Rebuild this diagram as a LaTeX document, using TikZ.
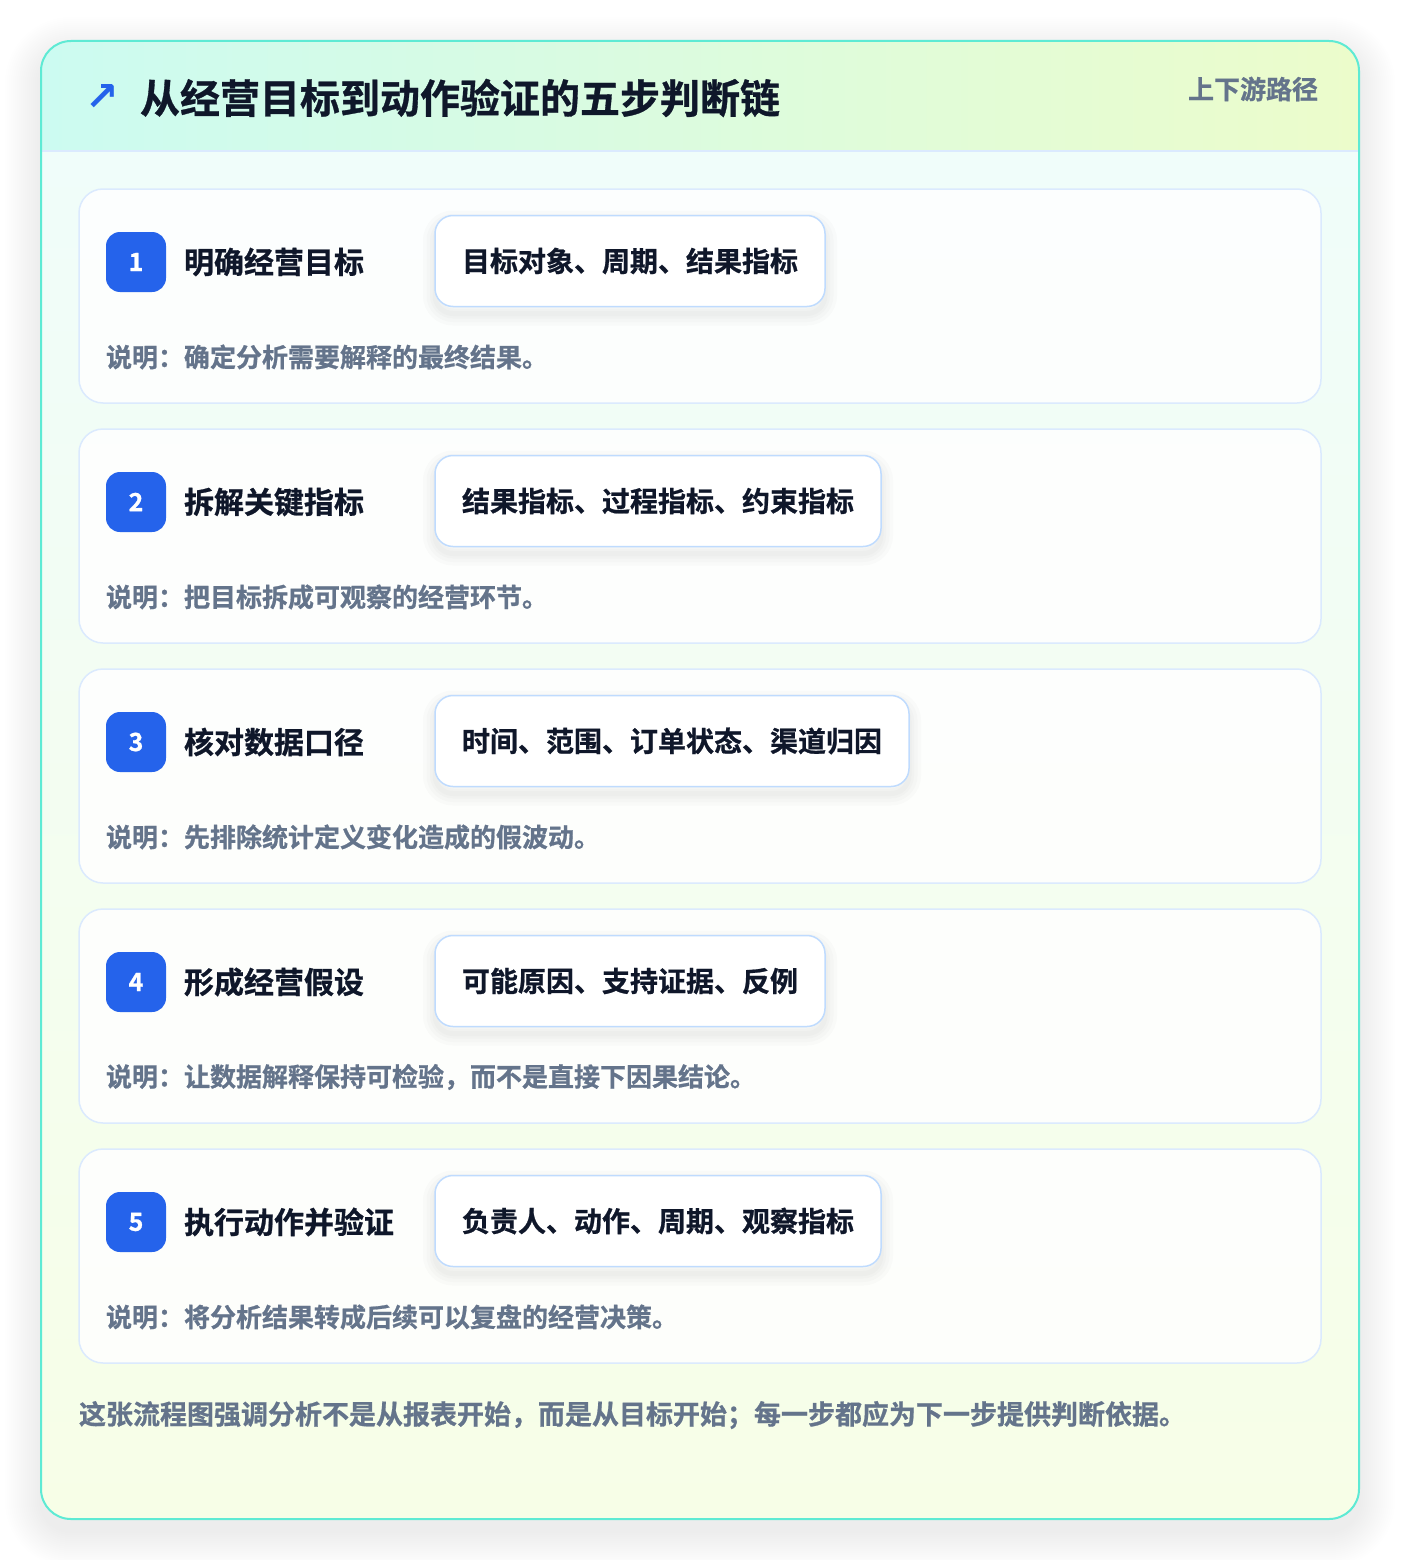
\documentclass[tikz,border=0pt]{standalone}
\usepackage{fontspec}
\setmainfont{Noto Sans CJK SC}[BoldFont={Noto Sans CJK SC Bold}, BoldFeatures={FakeBold=0.8}]
\newfontfamily\symfont{DejaVu Sans}
\tikzset{>=latex}
\usetikzlibrary{positioning}

\definecolor{badgeblue}{HTML}{2563EB}
\definecolor{inkdark}{HTML}{0F172A}
\definecolor{inkgray}{HTML}{64748B}
\definecolor{frameline}{HTML}{5EEAD4}
\definecolor{chipline}{HTML}{BFDBFE}
\definecolor{cardline}{HTML}{DBEAFE}
\definecolor{headleft}{HTML}{CCFBF1}
\definecolor{headright}{HTML}{ECFCCB}
\definecolor{bodytop}{HTML}{F0FDFA}
\definecolor{bodybot}{HTML}{F7FEE7}

\newcommand{\fs}[1]{\fontsize{#1pt}{#1pt}\selectfont\bfseries}

\begin{document}
\begin{tikzpicture}[x=1pt, y=-1pt, every node/.style={inner sep=0pt, outer sep=0pt}]
\tikzset{stepcard/.style={draw=cardline, line width=1.5pt, fill=white, fill opacity=0.85, rounded corners=24pt, minimum width=1242pt, minimum height=214pt, anchor=north west},
badge/.style={fill=badgeblue, rounded corners=14pt, minimum size=60pt, text=white, font=\fs{25}},
steptitle/.style={text=inkdark, font=\fs{30}, anchor=west},
softshadow/.style={preaction={draw=black, draw opacity=0.016, line width=#1, transform canvas={yshift=-7pt}}},
chip/.style={draw=chipline, line width=1.5pt, fill=white, rounded corners=18pt, inner xsep=27pt, minimum height=91pt, text=inkdark, font=\fs{28}, anchor=west,
  softshadow=24pt, softshadow=17pt, softshadow=10pt, softshadow=5pt},
desc/.style={text=inkgray, font=\fs{26}, anchor=west}}
\useasboundingbox (0,0) rectangle (1400,1560);
\fill[white] (0,0) rectangle (1400,1560);

% outer frame with its shadow
\foreach \r in {2,4,...,36}
  \fill[black, opacity=0.004, rounded corners=30pt+\r pt] (41-\r,53-\r) rectangle (1359+\r,1531+\r);
\begin{scope}
\clip[rounded corners=30pt] (41,41) rectangle (1359,1519);
\shade[top color=bodytop, bottom color=bodybot] (41,151) rectangle (1359,1519);
\shade[left color=headleft, right color=headright] (41,41) rectangle (1359,151);
\draw[cardline, line width=1.5pt] (41,151) -- (1359,151);
\end{scope}
\draw[frameline, line width=2pt, rounded corners=30pt] (41,41) rectangle (1359,1519);

% header
\node[text=badgeblue, font=\symfont\bfseries\fontsize{40pt}{40pt}\selectfont] (icon) at (102,98) {↗};
\node[text=inkdark, font=\fs{40}, anchor=west] (title) at (140,98) {从经营目标到动作验证的五步判断链};
\node[text=inkgray, font=\fs{26}, anchor=east] (tag) at (1318,89) {上下游路径};

% step 1
\node[stepcard] (c1) at (79,189) {};
\node[badge] (b1) at (136,262) {1};
\node[steptitle, right=18pt of b1] (t1) {明确经营目标};
\node[chip] (k1) at (435,261) {目标对象、周期、结果指标};
\node[desc] (d1) at (106,357) {说明：确定分析需要解释的最终结果。};

% step 2
\node[stepcard] (c2) at (79,429) {};
\node[badge] (b2) at (136,502) {2};
\node[steptitle, right=18pt of b2] (t2) {拆解关键指标};
\node[chip] (k2) at (435,501) {结果指标、过程指标、约束指标};
\node[desc] (d2) at (106,597) {说明：把目标拆成可观察的经营环节。};

% step 3
\node[stepcard] (c3) at (79,669) {};
\node[badge] (b3) at (136,742) {3};
\node[steptitle, right=18pt of b3] (t3) {核对数据口径};
\node[chip] (k3) at (435,741) {时间、范围、订单状态、渠道归因};
\node[desc] (d3) at (106,837) {说明：先排除统计定义变化造成的假波动。};

% step 4
\node[stepcard] (c4) at (79,909) {};
\node[badge] (b4) at (136,982) {4};
\node[steptitle, right=18pt of b4] (t4) {形成经营假设};
\node[chip] (k4) at (435,981) {可能原因、支持证据、反例};
\node[desc] (d4) at (106,1077) {说明：让数据解释保持可检验，而不是直接下因果结论。};

% step 5
\node[stepcard] (c5) at (79,1149) {};
\node[badge] (b5) at (136,1222) {5};
\node[steptitle, right=18pt of b5] (t5) {执行动作并验证};
\node[chip] (k5) at (435,1221) {负责人、动作、周期、观察指标};
\node[desc] (d5) at (106,1317) {说明：将分析结果转成后续可以复盘的经营决策。};

% footer
\node[desc, font=\fs{27}] (note) at (79,1415) {这张流程图强调分析不是从报表开始，而是从目标开始；每一步都应为下一步提供判断依据。};
\end{tikzpicture}
\end{document}
